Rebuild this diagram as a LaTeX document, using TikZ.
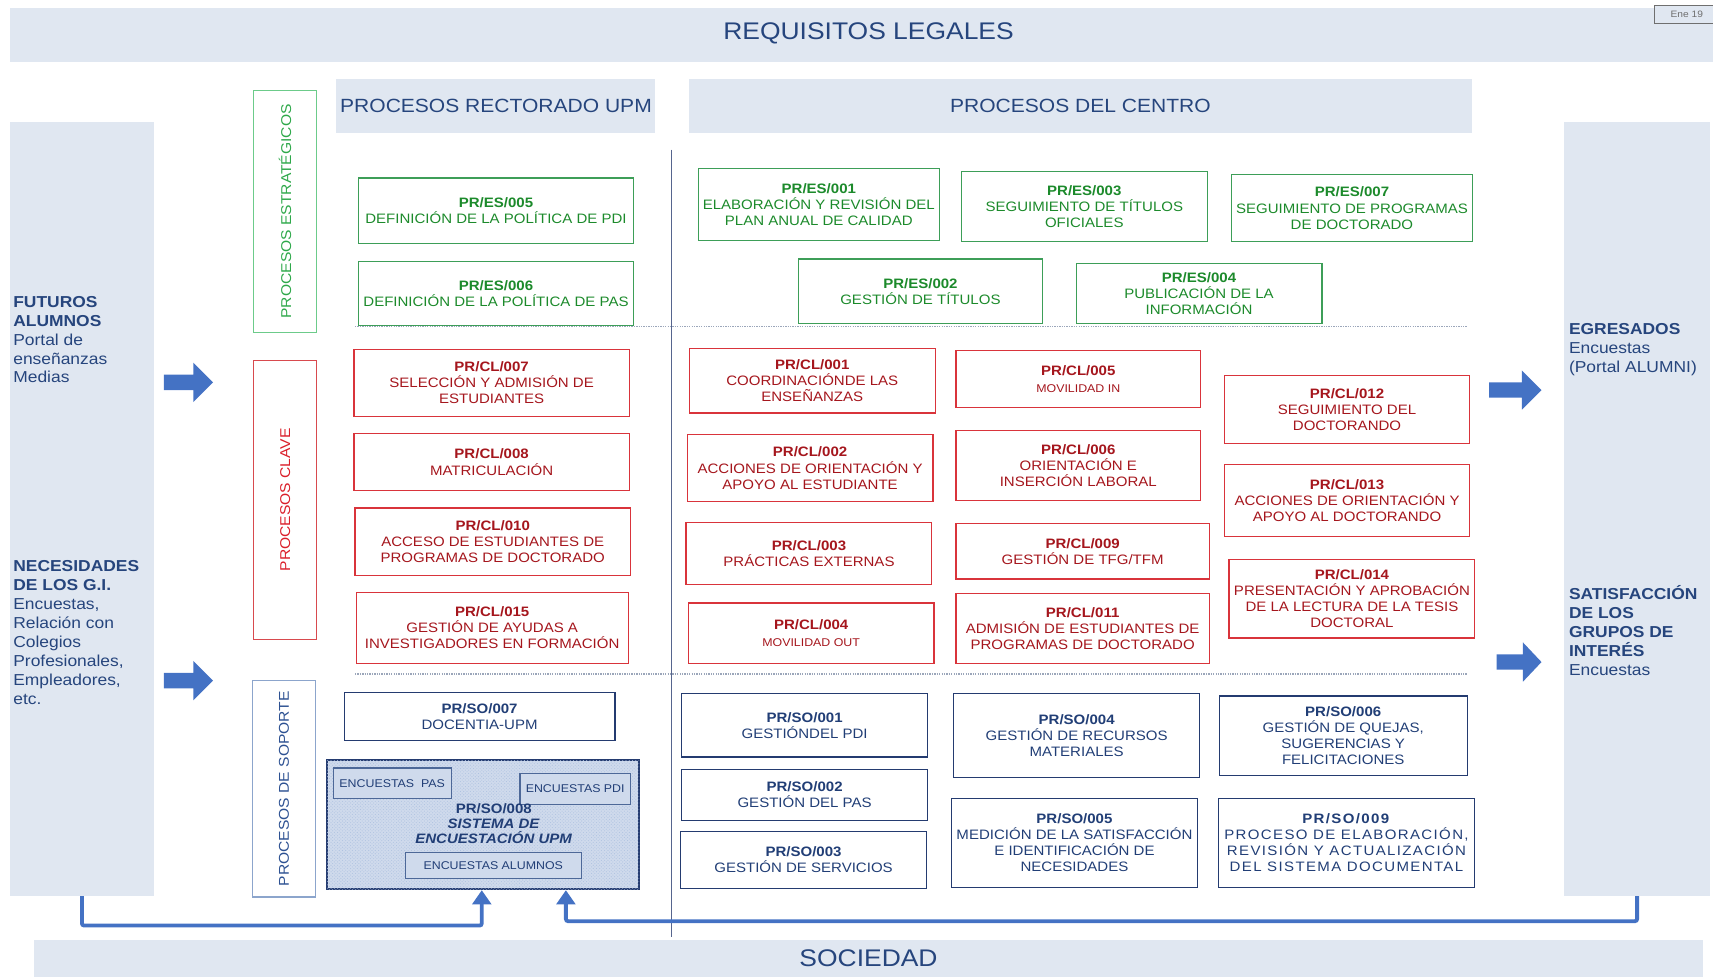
\documentclass[tikz,border=0pt]{standalone}
\usepackage{fontspec}
\setmainfont{Liberation Sans}[FakeStretch=1.1]
\usetikzlibrary{arrows.meta,patterns}

\definecolor{bandfill}{HTML}{E0E7F1}
\definecolor{titleblue}{HTML}{26457D}
\definecolor{estext}{HTML}{1C8A2B}
\definecolor{esdraw}{HTML}{3D9E58}
\definecolor{esttext}{HTML}{2EA84A}
\definecolor{estdraw}{HTML}{6CCB8A}
\definecolor{cltext}{HTML}{A5161D}
\definecolor{cldraw}{HTML}{D9343B}
\definecolor{clvtext}{HTML}{DA1F2A}
\definecolor{clvdraw}{HTML}{D84A4E}
\definecolor{sotext}{HTML}{213E76}
\definecolor{sodraw}{HTML}{243B70}
\definecolor{sovtext}{HTML}{2D5192}
\definecolor{sovdraw}{HTML}{8CA5CC}
\definecolor{encfill}{HTML}{CFDAEC}
\definecolor{encdots}{HTML}{AFC2E0}
\definecolor{encdraw}{HTML}{4D6898}
\definecolor{arrowblue}{HTML}{4472C4}
\definecolor{sepblue}{HTML}{56658E}
\definecolor{dotgray}{HTML}{9BA6BA}
\definecolor{enegray}{HTML}{6F6F6F}

\newcommand{\boxfont}{\fontsize{12.5}{14.7}\selectfont}
\newcommand{\smallbox}{\fontsize{10.3}{12}\selectfont}

\begin{document}
\begin{tikzpicture}[x=1pt,y=-1pt,
  band/.style={fill=bandfill,draw=none,inner sep=0,text=titleblue},
  esbox/.style={draw=esdraw,line width=1.1,text=estext,align=center,inner sep=0,font=\boxfont},
  clbox/.style={draw=cldraw,line width=1.1,text=cltext,align=center,inner sep=0,font=\boxfont},
  sobox/.style={draw=sodraw,line width=1.1,text=sotext,align=center,inner sep=0,font=\boxfont},
  encbox/.style={draw=encdraw,fill=encfill,line width=1,text=sotext,inner sep=0,font=\smallbox},
  sidetext/.style={anchor=north west,align=left,inner sep=0,text=titleblue,font=\fontsize{14.5}{17.3}\selectfont},
  vlabel/.style={rotate=90,inner sep=0,line width=1.1,font=\fontsize{13}{15}\selectfont},
  flowline/.style={draw=arrowblue,line width=3.5,rounded corners=2,-{Triangle[width=17pt,length=13pt]}}]

\useasboundingbox (0,0) rectangle (1568,894);

\node[band,minimum width=1559,minimum height=50] (legal) at (788.5,32) {};
\node[inner sep=0,text=titleblue,font=\fontsize{22}{26}\selectfont] (legaltxt) at (795,31) {REQUISITOS LEGALES};
\node[draw=enegray,fill=bandfill,line width=0.8,minimum width=60,minimum height=16,inner sep=0,text=enegray,font=\fontsize{8.5}{10}\selectfont] (ene) at (1544,13) {Ene 19};
\node[band,minimum width=292,minimum height=50,font=\fontsize{17.5}{20}\selectfont] (rect) at (454,97) {PROCESOS RECTORADO UPM};
\node[band,minimum width=716,minimum height=50,font=\fontsize{17.5}{20}\selectfont] (centro) at (989,97) {PROCESOS DEL CENTRO};
\node[band,minimum width=132,minimum height=708] (lband) at (75,466) {};
\node[band,minimum width=133,minimum height=708] (rband) at (1498.5,466) {};
\node[band,minimum width=1528,minimum height=34,font=\fontsize{22}{26}\selectfont] (soc) at (795,877) {SOCIEDAD};

\node[sidetext] (futtxt) at (12,271) {\textbf{FUTUROS}\\\textbf{ALUMNOS}\\Portal de\\enseñanzas\\Medias};
\node[sidetext] (necestxt) at (12,513) {\textbf{NECESIDADES}\\\textbf{DE LOS G.I.}\\Encuestas,\\Relación con\\Colegios\\Profesionales,\\Empleadores,\\etc.};
\node[sidetext] (egrtxt) at (1436,296) {\textbf{EGRESADOS}\\Encuestas\\(Portal ALUMNI)};
\node[sidetext] (sattxt) at (1436,536) {\textbf{SATISFACCIÓN}\\\textbf{DE LOS}\\\textbf{GRUPOS DE}\\\textbf{INTERÉS}\\Encuestas};

\foreach \xa/\xb/\xc/\ym in {150/177/195/350, 150/177/195/623, 1363/1393/1411/357, 1370/1394/1411/606} {\fill[arrowblue] (\xa,\ym-7) -- (\xb,\ym-7) -- (\xb,\ym-18) -- (\xc,\ym) -- (\xb,\ym+18) -- (\xb,\ym+7) -- (\xa,\ym+7) -- cycle;}

\draw[sepblue,line width=0.8] (615,137) -- (615,858);
\foreach \y in {299,617} {\draw[dotgray,densely dotted,line width=1.2] (325,\y) -- (1343,\y);}

\node[vlabel,draw=estdraw,text=esttext,minimum width=221,minimum height=58] (vest) at (261,193.5) {PROCESOS ESTRATÉGICOS};
\node[vlabel,draw=clvdraw,text=clvtext,minimum width=255,minimum height=58] (vclave) at (261,457.5) {PROCESOS CLAVE};
\node[vlabel,draw=sovdraw,text=sovtext,minimum width=198,minimum height=58] (vsop) at (260,722) {PROCESOS DE SOPORTE};

\node[esbox,minimum width=252,minimum height=60] (es005) at (454,193) {\textbf{PR/ES/005}\\DEFINICIÓN DE LA POLÍTICA DE PDI};
\node[esbox,minimum width=252,minimum height=59] (es006) at (454,268.5) {\textbf{PR/ES/006}\\DEFINICIÓN DE LA POLÍTICA DE PAS};
\node[esbox,minimum width=221,minimum height=66] (es001) at (749.5,187) {\textbf{PR/ES/001}\\ELABORACIÓN Y REVISIÓN DEL\\PLAN ANUAL DE CALIDAD};
\node[esbox,minimum width=225,minimum height=64] (es003) at (992.5,189) {\textbf{PR/ES/003}\\SEGUIMIENTO DE TÍTULOS\\OFICIALES};
\node[esbox,minimum width=221,minimum height=61] (es007) at (1237.5,190.5) {\textbf{PR/ES/007}\\SEGUIMIENTO DE PROGRAMAS\\DE DOCTORADO};
\node[esbox,minimum width=223,minimum height=59] (es002) at (842.5,266.5) {\textbf{PR/ES/002}\\GESTIÓN DE TÍTULOS};
\node[esbox,minimum width=225,minimum height=55] (es004) at (1097.5,268.5) {\textbf{PR/ES/004}\\PUBLICACIÓN DE LA\\INFORMACIÓN};

\node[clbox,minimum width=252,minimum height=61] (cl007) at (450,350.5) {\textbf{PR/CL/007}\\SELECCIÓN Y ADMISIÓN DE\\ESTUDIANTES};
\node[clbox,minimum width=252,minimum height=52] (cl008) at (450,423) {\textbf{PR/CL/008}\\MATRICULACIÓN};
\node[clbox,minimum width=252,minimum height=62] (cl010) at (451,496) {\textbf{PR/CL/010}\\ACCESO DE ESTUDIANTES DE\\PROGRAMAS DE DOCTORADO};
\node[clbox,minimum width=249,minimum height=65] (cl015) at (450.5,574.5) {\textbf{PR/CL/015}\\GESTIÓN DE AYUDAS A\\INVESTIGADORES EN FORMACIÓN};
\node[clbox,minimum width=225,minimum height=59] (cl001) at (743.5,348.5) {\textbf{PR/CL/001}\\COORDINACIÓNDE LAS\\ENSEÑANZAS};
\node[clbox,minimum width=225,minimum height=61] (cl002) at (741.5,428.5) {\textbf{PR/CL/002}\\ACCIONES DE ORIENTACIÓN Y\\APOYO AL ESTUDIANTE};
\node[clbox,minimum width=225,minimum height=57] (cl003) at (740.5,506.5) {\textbf{PR/CL/003}\\PRÁCTICAS EXTERNAS};
\node[clbox,minimum width=225,minimum height=55] (cl004) at (742.5,579.5) {\textbf{PR/CL/004}\\{\smallbox MOVILIDAD OUT}};
\node[clbox,minimum width=224,minimum height=52] (cl005) at (987,347) {\textbf{PR/CL/005}\\{\smallbox MOVILIDAD IN}};
\node[clbox,minimum width=224,minimum height=64] (cl006) at (987,426) {\textbf{PR/CL/006}\\ORIENTACIÓN E\\INSERCIÓN LABORAL};
\node[clbox,minimum width=232,minimum height=51] (cl009) at (991,504.5) {\textbf{PR/CL/009}\\GESTIÓN DE TFG/TFM};
\node[clbox,minimum width=232,minimum height=64] (cl011) at (991,575) {\textbf{PR/CL/011}\\ADMISIÓN DE ESTUDIANTES DE\\PROGRAMAS DE DOCTORADO};
\node[clbox,minimum width=224,minimum height=62] (cl012) at (1233,375) {\textbf{PR/CL/012}\\SEGUIMIENTO DEL\\DOCTORANDO};
\node[clbox,minimum width=224,minimum height=66] (cl013) at (1233,458) {\textbf{PR/CL/013}\\ACCIONES DE ORIENTACIÓN Y\\APOYO AL DOCTORANDO};
\node[clbox,minimum width=225,minimum height=72] (cl014) at (1237.5,548) {\textbf{PR/CL/014}\\PRESENTACIÓN Y APROBACIÓN\\DE LA LECTURA DE LA TESIS\\DOCTORAL};

\node[sobox,minimum width=248,minimum height=44] (so007) at (439,656) {\textbf{PR/SO/007}\\DOCENTIA-UPM};
\node[draw=sodraw,line width=1.6,fill=encfill,postaction={pattern=crosshatch dots,pattern color=encdots},minimum width=286,minimum height=118,inner sep=0] (so008) at (442,755) {};
\node[encbox,minimum width=108,minimum height=28] (encpas) at (359,717) {ENCUESTAS\ \ PAS};
\node[encbox,minimum width=101,minimum height=28] (encpdi) at (526.5,722) {ENCUESTAS PDI};
\node[encbox,minimum width=161,minimum height=24] (encalu) at (451.5,792) {ENCUESTAS ALUMNOS};
\node[align=center,inner sep=0,text=sotext,font=\fontsize{12.5}{14}\selectfont\bfseries] (so008txt) at (452,754) {PR/SO/008\\\textit{SISTEMA DE}\\\textit{ENCUESTACIÓN UPM}};
\node[sobox,minimum width=225,minimum height=58] (so001) at (736.5,664) {\textbf{PR/SO/001}\\GESTIÓNDEL PDI};
\node[sobox,minimum width=225,minimum height=47] (so002) at (736.5,727.5) {\textbf{PR/SO/002}\\GESTIÓN DEL PAS};
\node[sobox,minimum width=225,minimum height=52] (so003) at (735.5,787) {\textbf{PR/SO/003}\\GESTIÓN DE SERVICIOS};
\node[sobox,minimum width=225,minimum height=77] (so004) at (985.5,673.5) {\textbf{PR/SO/004}\\GESTIÓN DE RECURSOS\\MATERIALES};
\node[sobox,minimum width=225,minimum height=81] (so005) at (983.5,771.5) {\textbf{PR/SO/005}\\MEDICIÓN DE LA SATISFACCIÓN\\E IDENTIFICACIÓN DE\\NECESIDADES};
\node[sobox,minimum width=227,minimum height=73] (so006) at (1229.5,673.5) {\textbf{PR/SO/006}\\GESTIÓN DE QUEJAS,\\SUGERENCIAS Y\\FELICITACIONES};
\node[sobox,minimum width=235,minimum height=81,font=\boxfont\addfontfeature{LetterSpace=10}] (so009) at (1232.5,771.5) {\textbf{PR/SO/009}\\PROCESO DE ELABORACIÓN,\\REVISIÓN Y ACTUALIZACIÓN\\DEL SISTEMA DOCUMENTAL};

\draw[flowline] (lband.south) -- ++(0,27) -| ([xshift=-1]so008.south);
\draw[flowline] (rband.south) -- ++(0,23) -| ([xshift=76]so008.south);

\end{tikzpicture}
\end{document}
